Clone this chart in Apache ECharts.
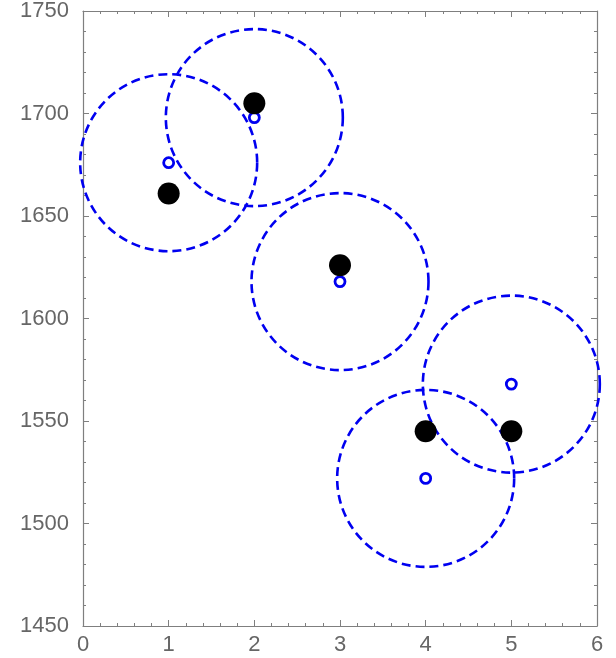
<!DOCTYPE html>
<html><head><meta charset="utf-8">
<script src="https://cdn.jsdelivr.net/npm/echarts@6/dist/echarts.min.js"></script>
<style>html,body{margin:0;padding:0;background:#fff}#c{width:616px;height:658px}</style>
</head><body><div id="c"></div>
<script>
var xs = [1, 2, 3, 4, 5];
var measured = [1661, 1705, 1626, 1545, 1545];
var predicted = [1676, 1698, 1618, 1522, 1568];
var xTicks = [0, 1, 2, 3, 4, 5, 6];
var yTicks = [1450, 1500, 1550, 1600, 1650, 1700, 1750];

function pairs(a) { return xs.map(function (x, i) { return [x, a[i]]; }); }
var axisColor = '#7f7f7f';
var labelStyle = { color: '#666', fontSize: 22, fontFamily: 'Liberation Sans, Arial, sans-serif',
  formatter: function (v) { return String(v); } };
function baseAxis(extra) {
  var o = {
    axisLine: { show: true, onZero: false, lineStyle: { color: axisColor, width: 1.2 } },
    axisTick: { show: true, inside: true, length: 6, lineStyle: { color: axisColor } },
    minorTick: { show: true, splitNumber: 5, length: 3, lineStyle: { color: axisColor } },
    splitLine: { show: false }
  };
  for (var k in extra) o[k] = extra[k];
  return o;
}
var blue = '#0000f0';
var chart = echarts.init(document.getElementById('c'), null, { renderer: 'canvas' });
chart.setOption({
  animation: false,
  backgroundColor: '#fff',
  grid: { left: 83, right: 19, top: 10, bottom: 32 },
  xAxis: [
    baseAxis({ type: 'value', position: 'bottom', min: xTicks[0], max: xTicks[xTicks.length - 1], interval: 1,
      axisLabel: Object.assign({ margin: 8 }, labelStyle) }),
    baseAxis({ type: 'value', position: 'top', min: xTicks[0], max: xTicks[xTicks.length - 1], interval: 1,
      axisLabel: { show: false } })
  ],
  yAxis: [
    baseAxis({ type: 'value', position: 'left', min: yTicks[0], max: yTicks[yTicks.length - 1], interval: 50,
      axisLabel: Object.assign({ margin: 14 }, labelStyle) }),
    baseAxis({ type: 'value', position: 'right', min: yTicks[0], max: yTicks[yTicks.length - 1], interval: 50,
      axisLabel: { show: false } })
  ],
  series: [
    {
      type: 'scatter', data: pairs(predicted), symbol: 'circle', symbolSize: 177, z: 2,
      itemStyle: { color: 'rgba(0,0,0,0)', borderColor: blue, borderWidth: 2.6, borderType: [9, 5], opacity: 1 },
      silent: true
    },
    {
      type: 'scatter', data: pairs(predicted), symbol: 'circle', symbolSize: 10, z: 3,
      itemStyle: { color: '#fff', borderColor: blue, borderWidth: 2.8, opacity: 1 }
    },
    {
      type: 'scatter', data: pairs(measured), symbol: 'circle', symbolSize: 22, z: 4,
      itemStyle: { color: '#000', opacity: 1 }
    }
  ]
});
</script></body></html>
